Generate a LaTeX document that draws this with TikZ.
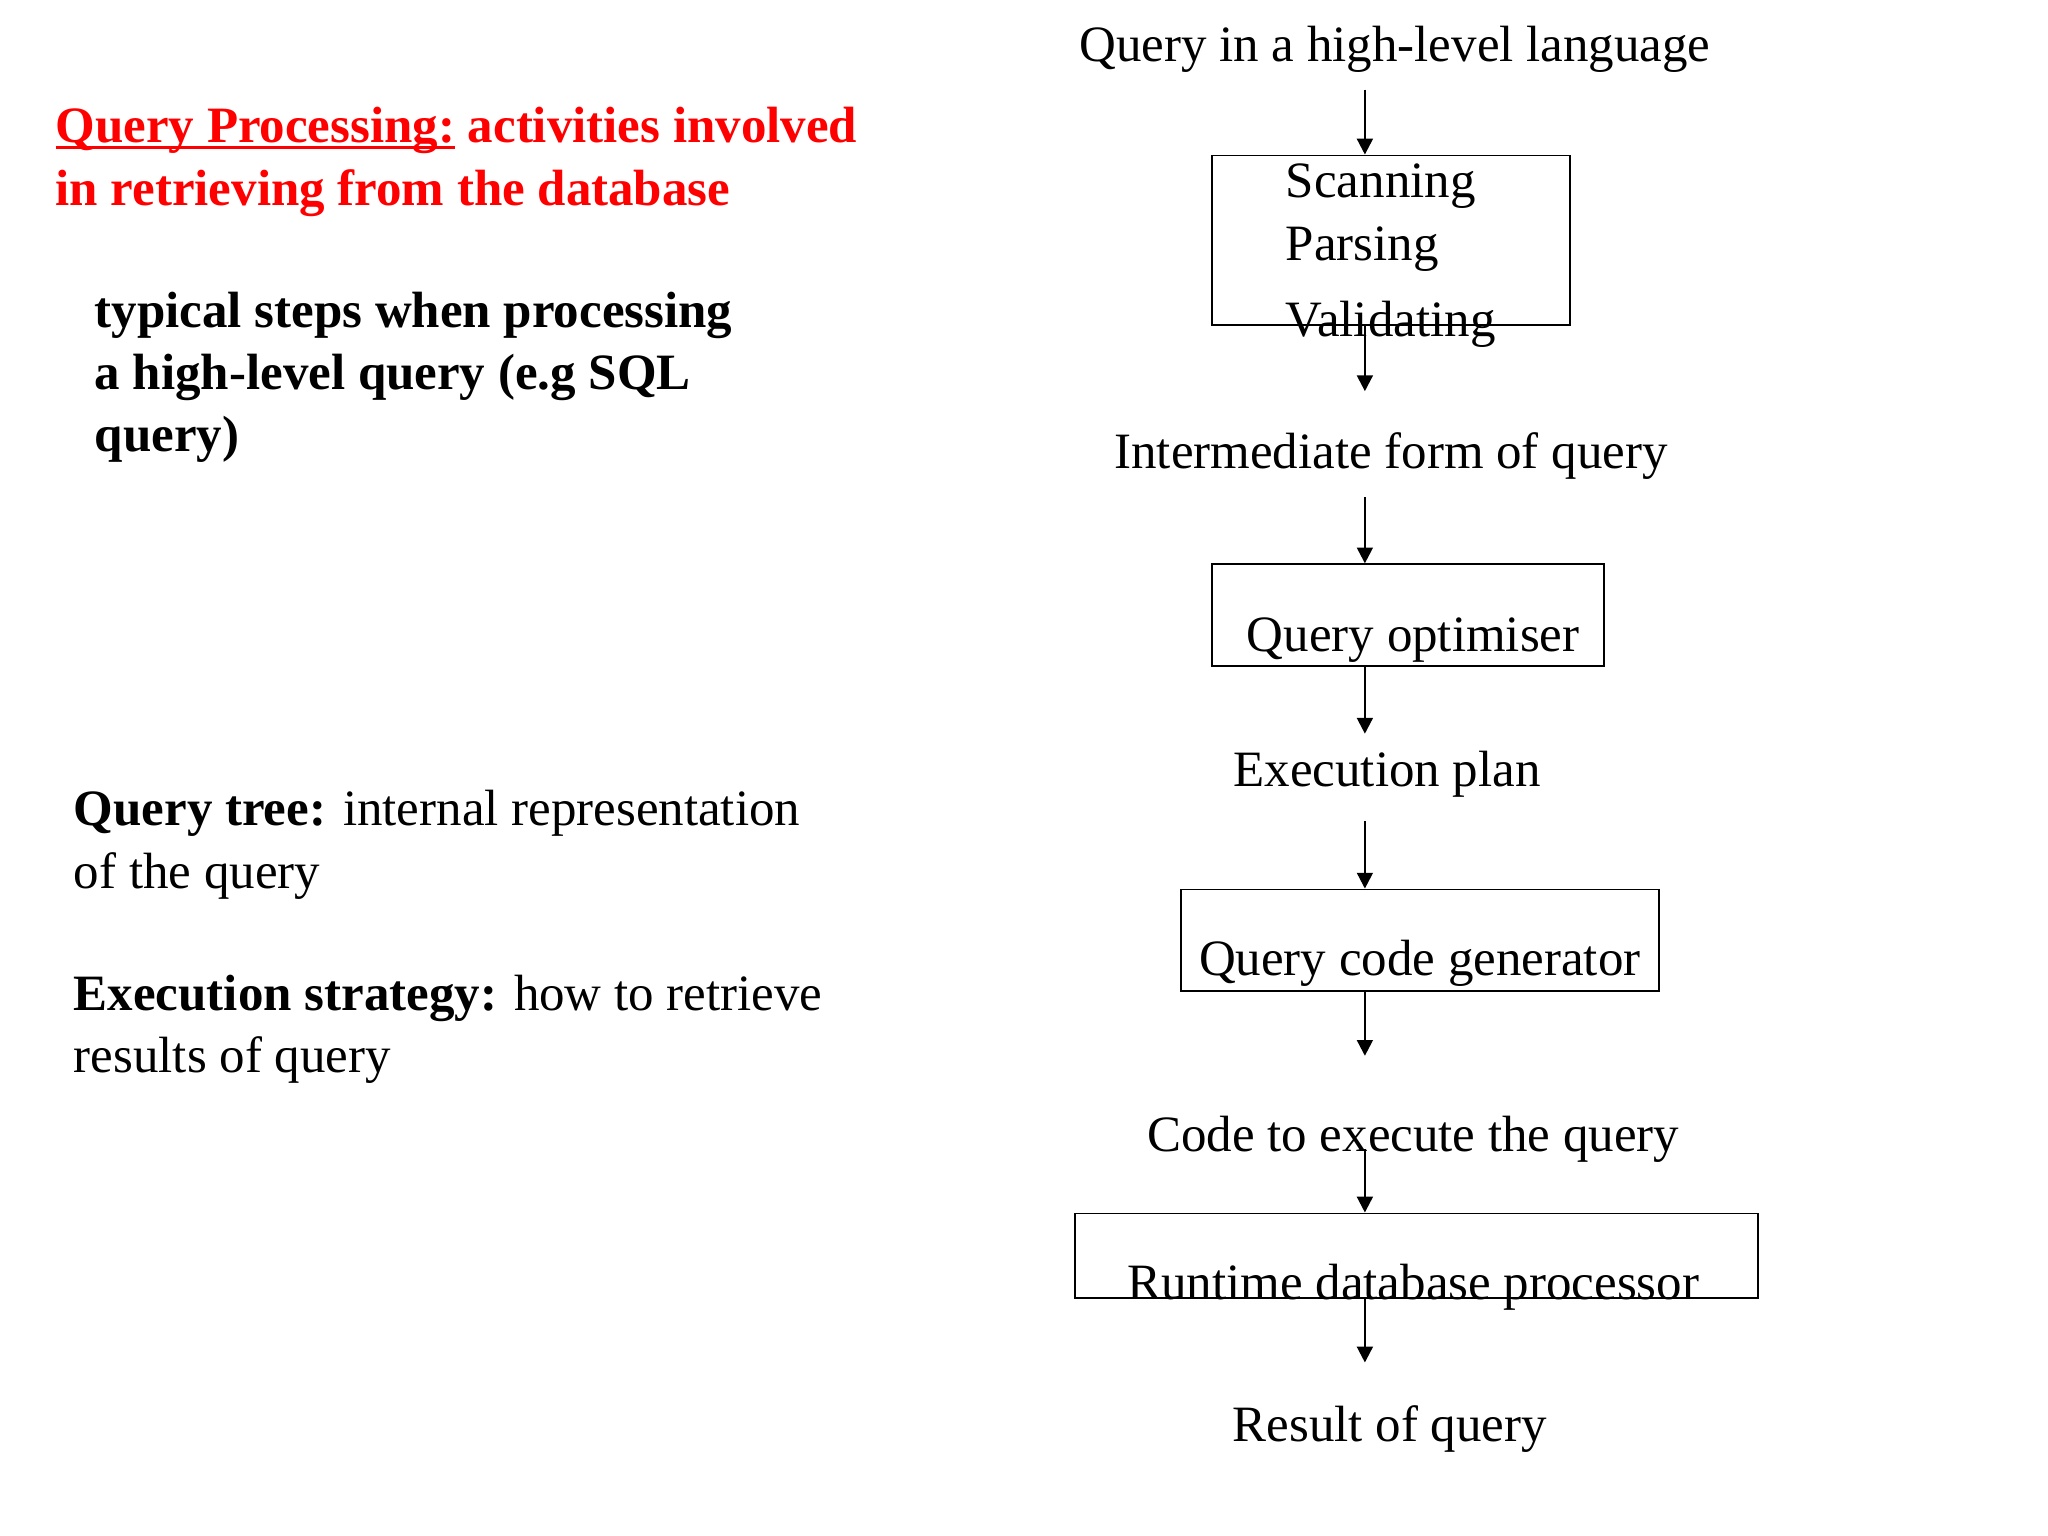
\documentclass[tikz,border=0pt]{standalone}
\usepackage{fontspec}
\setmainfont{Liberation Serif}
\usetikzlibrary{arrows.meta,positioning}
\newcommand{\px}{0.01306cm}
\newsavebox{\ulbox}
\newcommand{\ulinetext}[1]{\sbox{\ulbox}{#1}\rlap{\rule[-1.7pt]{\wd\ulbox}{0.8pt}}\usebox{\ulbox}}
\tikzset{
  slidetext/.style={font=\fontsize{14.5pt}{17.7pt}\selectfont, inner sep=0pt, align=left, anchor=base west},
  steplabel/.style={font=\fontsize{14.5pt}{17.7pt}\selectfont, inner xsep=0pt, inner ysep=4.7pt, anchor=base},
  stepbox/.style={draw, line width=0.5pt, inner sep=0pt},
  flow/.style={line width=0.65pt, -{Triangle[length=4.5pt,width=4.5pt]}}
}

\begin{document}
\begin{tikzpicture}[x=\px, y=-\px]
    \useasboundingbox (0,0) rectangle (1568,1176);

    % notes on the left (base is the last line)
    \node[slidetext, text=red, font=\fontsize{14.5pt}{17.7pt}\selectfont\bfseries] (title) at (42,157)
        {\ulinetext{Query Processing:} activities involved\\in retrieving from the database};
    \node[slidetext, font=\fontsize{14.5pt}{17.7pt}\selectfont\bfseries] (typical) at (72,346)
        {typical steps when processing\\a high-level query (e.g SQL\\query)};
    \node[slidetext] (tree) at (56,680) {\textbf{Query tree:} internal representation\\of the query};
    \node[slidetext] (strategy) at (56,821) {\textbf{Execution strategy:} how to retrieve\\results of query};

    % boxes
    \node[stepbox, minimum width=274*\px, minimum height=130*\px] (scanbox) at (1065,184) {};
    \node[stepbox, minimum width=300*\px, minimum height=78*\px] (optbox) at (1078,471) {};
    \node[stepbox, minimum width=366*\px, minimum height=78*\px] (genbox) at (1087,720) {};
    \node[stepbox, minimum width=523*\px, minimum height=65*\px] (runbox) at (1084.5,961.5) {};

    % text of the boxes
    \node[slidetext] (scanning) at (984,151) {Scanning};
    \node[slidetext] (parsing) at (984,199.5) {Parsing};
    \node[slidetext] (validating) at (984,258) {Validating};
    \node[steplabel] (optimiser) at (1082,499) {Query optimiser};
    \node[steplabel] (generator) at (1087,747) {Query code generator};
    \node[steplabel] (runtime) at (1082,995) {Runtime database processor};

    % data between the steps
    \node[steplabel] (qin) at (1068,47) {Query in a high-level language};
    \node[steplabel] (interform) at (1065,359) {Intermediate form of query};
    \node[steplabel] (plan) at (1062,602) {Execution plan};
    \node[steplabel] (code) at (1082,882) {Code to execute the query};
    \node[steplabel] (result) at (1064,1104) {Result of query};

    % connect steps
    \coordinate (axis) at (1045,0);
    \draw[flow] (qin.south -| axis) -- (scanbox.north -| axis);
    \draw[flow, shorten >=7pt] (scanbox.south -| axis) -- (interform.north -| axis);
    \draw[flow] (interform.south -| axis) -- (optbox.north -| axis);
    \draw[flow] (optbox.south -| axis) -- (plan.north -| axis);
    \draw[flow, shorten <=2pt] (plan.south -| axis) -- (genbox.north -| axis);
    \draw[flow, shorten >=12.4pt] (genbox.south -| axis) -- (code.north -| axis);
    \draw[flow, shorten <=-9pt] (code.south -| axis) -- (runbox.north -| axis);
    \draw[flow, shorten >=7.5pt] (runbox.south -| axis) -- (result.north -| axis);
\end{tikzpicture}
\end{document}
